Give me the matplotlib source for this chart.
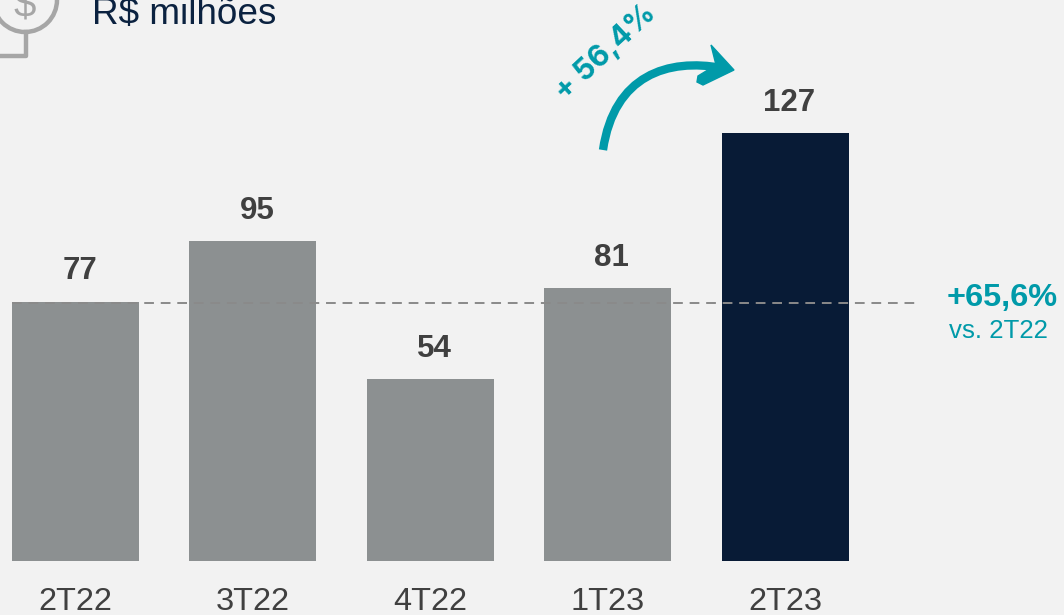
import matplotlib
matplotlib.use("Agg")
import matplotlib.pyplot as plt
from matplotlib.lines import Line2D
from matplotlib.patches import Circle, PathPatch, Polygon
from matplotlib.path import Path

plt.rcParams['font.family'] = ['Liberation Sans', 'DejaVu Sans']

# dados
trimestres = ['2T22', '3T22', '4T22', '1T23', '2T23']
valores = [77, 95, 54, 81, 127]
cores = ['#8c9091', '#8c9091', '#8c9091', '#8c9091', '#081b36']
referencia = 77

FUNDO = '#f2f2f2'
TEAL = '#009aa9'
W, H = 1064, 615

fig = plt.figure(figsize=(W / 100, H / 100), dpi=100, facecolor=FUNDO)
ax = fig.add_axes([0, 0, 1, 1], facecolor='none')

# escala: barras a cada 177.4 px, 3.37 px por unidade, base em y=561
ax.set_xlim(-75.5 / 177.4, (W - 75.5) / 177.4)
ax.set_ylim(-(H - 561) / 3.37, 561 / 3.37)
ax.axis('off')

x = list(range(len(trimestres)))
ax.bar(x, valores, width=127 / 177.4, color=cores, zorder=2)

for i, v in zip(x, valores):
    ax.annotate(str(v), (i, v), xytext=(3, 11), textcoords='offset points',
                ha='center', va='bottom', fontsize=22.5, fontweight='bold',
                color='#404040')
    ax.annotate(trimestres[i], (i, 0), xytext=(0, -19), textcoords='offset points',
                ha='center', va='top', fontsize=23.4, color='#404040')

ax.hlines(referencia - 0.4, -63.5 / 177.4, (916 - 75.5) / 177.4, color='#8a8a8a',
          linewidth=1.4, linestyles=(0, (5, 3.5)), zorder=3)

# camada em pixels para icone, seta e textos soltos
ov = fig.add_axes([0, 0, 1, 1], facecolor='none')
ov.set_xlim(0, W)
ov.set_ylim(H, 0)
ov.axis('off')

# icone
CINZA = '#a6a6a6'
ov.add_patch(Circle((25, 0), 32, fill=False, ec=CINZA, lw=3.2))
ov.add_line(Line2D([26, 26, 0], [32, 56, 56], color=CINZA, lw=3.2))
ov.text(25, 6, '$', ha='center', va='center', fontsize=29, color=CINZA)
ov.text(92, 14, 'R$ milhões', ha='left', va='center', fontsize=26.6, color='#0b2240')

# seta curva
seta = Path([(603, 150), (614, 75), (668, 58), (722, 68)],
            [Path.MOVETO, Path.CURVE4, Path.CURVE4, Path.CURVE4])
ov.add_patch(PathPatch(seta, fill=False, ec=TEAL, lw=6, capstyle='butt'))
ov.add_patch(Polygon([(711, 45), (734, 70), (703, 85), (697, 82), (698, 76),
                      (716, 65)], closed=True, fc=TEAL, ec=TEAL, lw=1))

ov.text(606, 53, '+ 56,4%', rotation=43, ha='center', va='center',
        rotation_mode='anchor', fontsize=21.5, fontweight='bold',
        family=['Inter', 'DejaVu Sans'], color=TEAL)

ov.text(1002, 298, '+65,6%', ha='center', va='center', fontsize=23.4,
        fontweight='bold', color=TEAL)
ov.text(998, 331, 'vs. 2T22', ha='center', va='center', fontsize=18.6, color=TEAL)

fig.savefig('out.png', dpi=100, facecolor=FUNDO)
